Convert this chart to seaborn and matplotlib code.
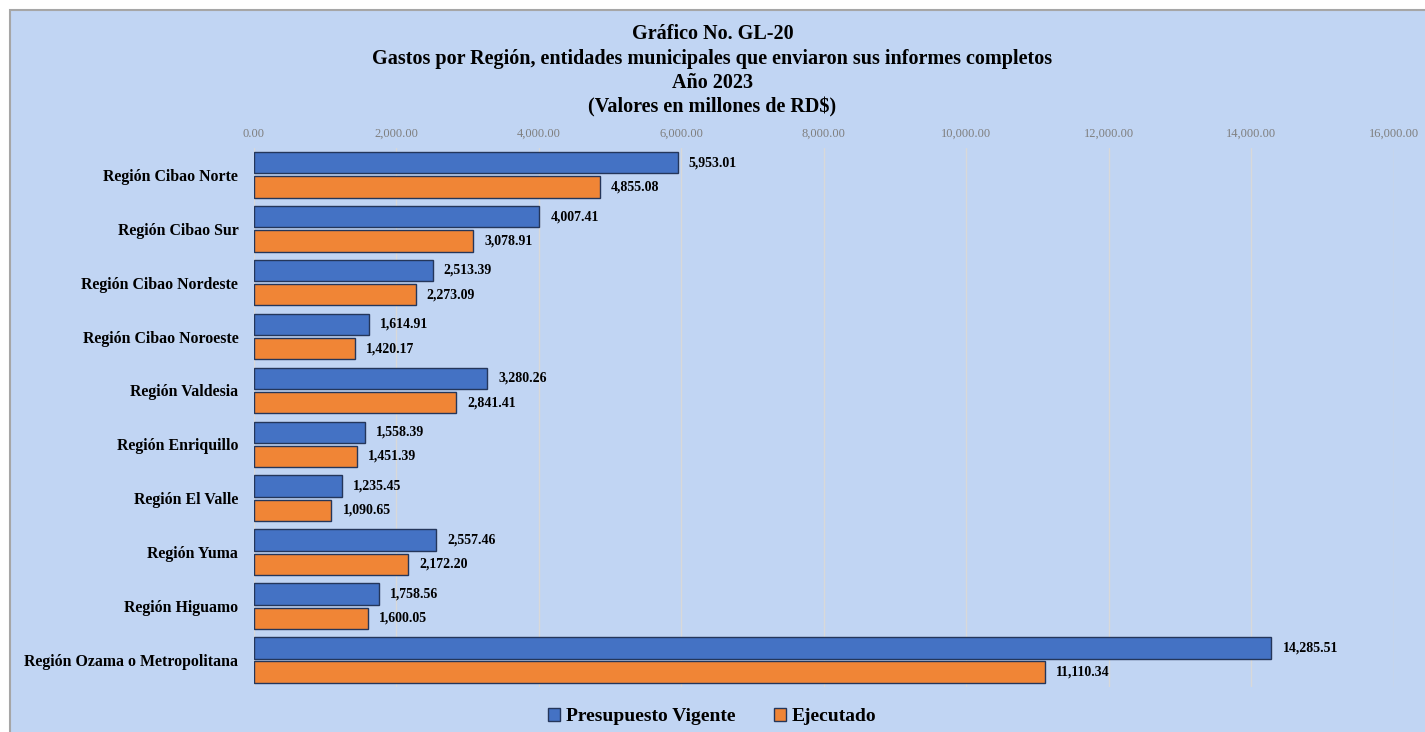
import matplotlib
matplotlib.use("Agg")
import matplotlib.pyplot as plt
from matplotlib.patches import Rectangle
import seaborn as sns
import pandas as pd

regiones = [
    "Región Cibao Norte",
    "Región Cibao Sur",
    "Región Cibao Nordeste",
    "Región Cibao Noroeste",
    "Región Valdesia",
    "Región Enriquillo",
    "Región El Valle",
    "Región Yuma",
    "Región Higuamo",
    "Región Ozama o Metropolitana",
]
presupuesto = [5953.01, 4007.41, 2513.39, 1614.91, 3280.26, 1558.39, 1235.45, 2557.46, 1758.56, 14285.51]
ejecutado = [4855.08, 3078.91, 2273.09, 1420.17, 2841.41, 1451.39, 1090.65, 2172.20, 1600.05, 11110.34]
series = ["Presupuesto Vigente", "Ejecutado"]
x_ticks = [0, 2000, 4000, 6000, 8000, 10000, 12000, 14000, 16000]

df = pd.DataFrame({
    "Region": regiones * 2,
    "Valor": presupuesto + ejecutado,
    "Serie": [series[0]] * len(regiones) + [series[1]] * len(regiones),
})

sns.set_theme(style="white")
plt.rcParams["font.family"] = ["Liberation Serif", "DejaVu Serif"]
plt.rcParams["text.color"] = "black"
plt.rcParams["axes.labelcolor"] = "black"
plt.rcParams["ytick.color"] = "black"

bg = "#C1D5F3"
fig = plt.figure(figsize=(14.25, 7.32), dpi=100)
fig.patch.set_facecolor("white")
fig.patches.append(Rectangle((0.007, -0.01), 1.0, 0.997, transform=fig.transFigure,
                             facecolor=bg, edgecolor="#A6A6A6", linewidth=1.5, zorder=-10))

ax = fig.add_axes([0.178, 0.0615, 0.8, 0.7365])
ax.set_zorder(1)
ax.set_facecolor(bg)

palette = {series[0]: "#4472C4", series[1]: "#F08536"}
sns.barplot(data=df, y="Region", x="Valor", hue="Serie", orient="h",
            palette=palette, width=0.9, gap=0.12, ax=ax,
            edgecolor="#24365A", linewidth=1.0, saturation=1)

for cont in ax.containers:
    ax.bar_label(cont, labels=[f"{v:,.2f}" for v in cont.datavalues],
                 padding=8, fontsize=10, fontweight="bold", color="black")

ax.set_xlim(0, 16000)
ax.set_xticks(x_ticks)
ax.set_xticklabels([f"{t:,.2f}" for t in x_ticks], fontsize=9, color="#7F7F7F",
                   va="baseline")
ax.xaxis.tick_top()
ax.tick_params(axis="x", length=0, pad=8)
ax.tick_params(axis="y", length=0, pad=11)
for lab in ax.get_yticklabels():
    lab.set_fontweight("bold")
    lab.set_fontsize(11.4)
    lab.set_color("black")
ax.grid(axis="x", color="#D9D9D9", linewidth=1)
ax.set_axisbelow(True)
for s in ax.spines.values():
    s.set_visible(False)
ax.set_xlabel("")
ax.set_ylabel("")

fig.text(0.5, 0.967, "Gráfico No. GL-20\nGastos por Región, entidades municipales que enviaron sus informes completos\nAño 2023\n(Valores en millones de RD$)",
         ha="center", va="top", fontsize=14.5, fontweight="bold", linespacing=1.3, color="black")

handles, labels = ax.get_legend_handles_labels()
ax.legend_.remove()
fig.legend(handles, labels, loc="lower center", bbox_to_anchor=(0.5, -0.015), ncol=2,
           frameon=False, prop={"weight": "bold", "size": 14}, handlelength=0.6,
           handleheight=0.6, columnspacing=2.0, handletextpad=0.3, labelcolor="black")

fig.savefig("out.png", dpi=100, facecolor=fig.get_facecolor())
